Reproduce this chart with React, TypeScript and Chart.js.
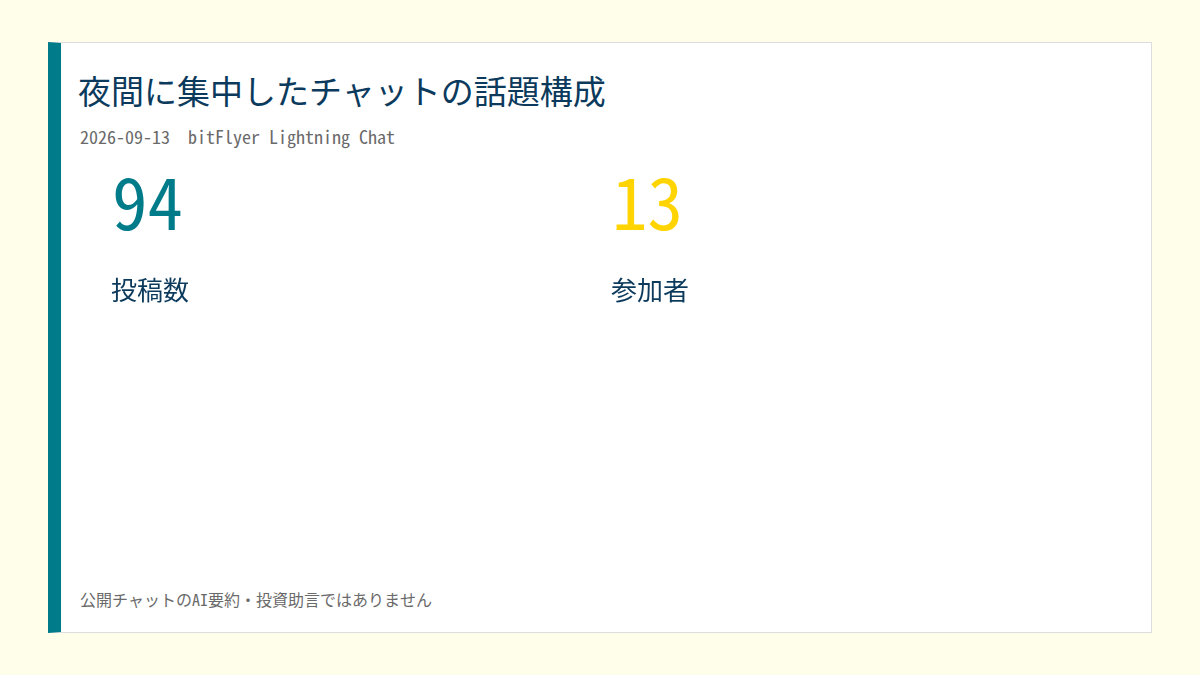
import { useEffect, useRef } from "react";
import { Chart, registerables, Plugin } from "chart.js";

Chart.register(...registerables);

const kpiLabels = ["投稿数", "参加者"];
const kpiValues = [94, 13];
const kpiColors = ["#007b8a", "#ffd400"];

const title = "夜間に集中したチャットの話題構成";
const subtitle = "2026-09-13\u00a0\u00a0bitFlyer Lightning Chat";
const footer = "公開チャットのAI要約・投資助言ではありません";

const NAVY = "#0b3a5c";
const MONO = "'Noto Sans Mono CJK JP', 'DejaVu Sans Mono', monospace";

// draws the KPI number + label at the left edge of each category band
const kpiPlugin: Plugin<"bar"> = {
  id: "kpiText",
  afterDatasetsDraw(chart) {
    const { ctx, scales } = chart;
    const x = scales.x;
    const band = (x.right - x.left) / kpiLabels.length;
    const values = chart.data.datasets[0].data as number[];
    ctx.save();
    ctx.textAlign = "left";
    ctx.textBaseline = "alphabetic";
    (chart.data.labels as string[]).forEach((label, i) => {
      const left = x.getPixelForValue(i) - band / 2 + 12;
      ctx.fillStyle = kpiColors[i];
      ctx.font = "71px " + MONO;
      ctx.fillText(String(values[i]), left, 70);
      ctx.fillStyle = NAVY;
      ctx.font = "26px 'Noto Sans CJK JP', sans-serif";
      ctx.fillText(label, left - 1, 140);
    });
    ctx.restore();
  },
};

function KpiChart() {
  const canvasRef = useRef<HTMLCanvasElement>(null);
  const chartRef = useRef<Chart | null>(null);

  useEffect(() => {
    if (!canvasRef.current) return;
    if (chartRef.current) chartRef.current.destroy();

    chartRef.current = new Chart(canvasRef.current, {
      type: "bar",
      data: {
        labels: kpiLabels,
        datasets: [
          {
            data: kpiValues,
            backgroundColor: "rgba(0,0,0,0)",
            borderWidth: 0,
          },
        ],
      },
      options: {
        animation: false,
        responsive: false,
        maintainAspectRatio: false,
        layout: { padding: 0 },
        plugins: {
          legend: { display: false },
          tooltip: { enabled: false },
        },
        scales: {
          x: { display: false, offset: true },
          y: { display: false, beginAtZero: true },
        },
      },
      plugins: [kpiPlugin],
    });

    return () => {
      if (chartRef.current) {
        chartRef.current.destroy();
        chartRef.current = null;
      }
    };
  }, []);

  // card content box starts at page x=61, y=43
  return (
    <canvas
      ref={canvasRef}
      width={1000}
      height={160}
      style={{ position: "absolute", left: 39, top: 117, width: 1000, height: 160 }}
    />
  );
}

export default function App() {
  useEffect(() => {
    document.body.style.margin = "0";
    document.body.style.background = "#fefeeb";
  }, []);

  return (
    <div style={{ position: "relative", width: 1200, height: 675, background: "#fefeeb", overflow: "hidden" }}>
      <div
        style={{
          position: "absolute",
          left: 48,
          top: 42,
          width: 1104,
          height: 591,
          boxSizing: "border-box",
          background: "#ffffff",
          border: "1px solid #dddddd",
          borderLeft: "13px solid #007b8a",
        }}
      >
        <div
          style={{
            position: "absolute",
            left: 17,
            top: 27,
            fontFamily: "'Noto Sans CJK JP', sans-serif",
            fontSize: 33,
            lineHeight: "40px",
            color: NAVY,
            whiteSpace: "nowrap",
          }}
        >
          {title}
        </div>
        <div
          style={{
            position: "absolute",
            left: 19,
            top: 82,
            fontFamily: MONO,
            fontSize: 18,
            lineHeight: "22px",
            color: "#6a6a6a",
            whiteSpace: "nowrap",
          }}
        >
          {subtitle}
        </div>
        <KpiChart />
        <div
          style={{
            position: "absolute",
            left: 19,
            top: 545,
            fontFamily: MONO,
            fontSize: 16,
            lineHeight: "22px",
            color: "#6a6a6a",
            whiteSpace: "nowrap",
          }}
        >
          {footer}
        </div>
      </div>
    </div>
  );
}
